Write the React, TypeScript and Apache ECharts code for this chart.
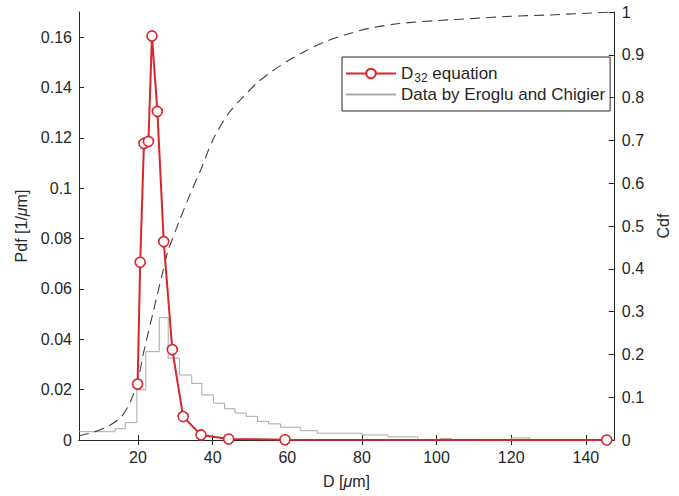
import React, { useEffect, useRef } from "react";
import * as echarts from "echarts";

// D32 equation (x in µm, pdf in 1/µm)
const d32X = [19.9, 20.6, 21.6, 22.8, 23.75, 25.2, 26.9, 29.2, 32.1, 36.9, 44.3, 59.4, 145.6];
const d32Y = [0.0222, 0.0706, 0.1178, 0.1186, 0.1605, 0.1305, 0.0788, 0.0359, 0.0093, 0.002, 0.0004, 0.0001, 0];

// Data by Eroglu and Chigier (stairs: left edge of each bin, pdf value)
const histEdges = [4.2, 13.9, 16.6, 19.7, 22.1, 25.7, 28.1, 31.1, 34.4, 37.1, 40.2, 43.2, 46, 49, 52, 55, 58.2, 63.5, 68, 80, 87, 95, 101, 104, 120, 125, 147.5];
const histPdf = [0.0033, 0.0045, 0.0069, 0.0199, 0.0351, 0.0486, 0.0325, 0.0258, 0.0225, 0.0179, 0.0146, 0.0124, 0.0107, 0.0094, 0.0074, 0.0064, 0.0051, 0.0037, 0.0027, 0.002, 0.0013, 0.0002, 0.0006, 0.0002, 0.0008, 0.0002, 0.0002];

// Cumulative distribution (right axis)
const cdfX = [4.2, 8, 12, 15.6, 18, 20, 21.4, 24.1, 26.3, 28, 31, 34, 37, 40, 44, 48, 52, 56, 60, 64, 70, 76, 82, 90, 100, 110, 120, 130, 140, 147.5];
const cdfY = [0.01, 0.018, 0.032, 0.055, 0.09, 0.14, 0.2, 0.3, 0.38, 0.44, 0.51, 0.575, 0.635, 0.7, 0.76, 0.8, 0.835, 0.862, 0.885, 0.905, 0.93, 0.948, 0.962, 0.973, 0.98, 0.985, 0.99, 0.993, 0.997, 1.0];

const xTicks = [20, 40, 60, 80, 100, 120, 140];
const pdfTicks = [0, 0.02, 0.04, 0.06, 0.08, 0.1, 0.12, 0.14, 0.16];

const FONT = "'Liberation Sans', Arial, Helvetica, sans-serif";
const AX = "#262626";
const RED = "#d9262b";

export default function App() {
  const ref = useRef<HTMLDivElement>(null);
  useEffect(() => {
    if (!ref.current) return;
    const chart = echarts.init(ref.current, undefined, { renderer: "svg" });
    const d32 = d32X.map((x, i) => [x, d32Y[i]]);
    const hist = histEdges.map((x, i) => [x, histPdf[i]]);
    const cdf = cdfX.map((x, i) => [x, cdfY[i]]);
    const tickStyle = { show: true, inside: true, length: 5, lineStyle: { color: AX, width: 1 } };
    chart.setOption({
      animation: false,
      backgroundColor: "#ffffff",
      textStyle: { fontFamily: FONT },
      grid: { left: 79, right: 65, top: 12, bottom: 56, containLabel: false },
      legend: {
        orient: "vertical",
        left: 342,
        top: 57,
        backgroundColor: "#ffffff",
        borderColor: AX,
        borderWidth: 1,
        padding: [6, 5, 8, 3],
        itemGap: 2,
        itemWidth: 50,
        itemHeight: 12,
        data: [
          { name: "D32" },
          { name: "Data by Eroglu and Chigier", itemStyle: { opacity: 0 } },
        ],
        formatter: (name: string) => (name === "D32" ? "{n|D}{s|32}{n| equation}" : "{n|" + name + "}"),
        textStyle: {
          fontFamily: FONT,
          color: AX,
          rich: {
            n: { fontSize: 17, fontFamily: FONT, color: AX, lineHeight: 19 },
            s: { fontSize: 12, fontFamily: FONT, color: AX, lineHeight: 19, padding: [9, 0, 0, 1] },
          },
        },
      },
      xAxis: [
        {
          type: "value",
          min: 4.2,
          max: 147.5,
          position: "bottom",
          name: "D [{i|μ}m]",
          nameLocation: "middle",
          nameGap: 33,
          nameTextStyle: { fontSize: 16, color: AX, fontFamily: FONT, rich: { i: { fontSize: 16, fontStyle: "italic", fontFamily: FONT, color: AX } } },
          axisLine: { show: true, lineStyle: { color: AX, width: 1 } },
          axisTick: { ...tickStyle, customValues: xTicks },
          axisLabel: { customValues: xTicks, fontSize: 16, color: AX, margin: 9, fontFamily: FONT },
          splitLine: { show: false },
        },
        {
          type: "value",
          min: 4.2,
          max: 147.5,
          position: "top",
          axisLine: { show: true, lineStyle: { color: AX, width: 1 } },
          axisTick: { ...tickStyle, customValues: xTicks },
          axisLabel: { show: false, customValues: xTicks },
          splitLine: { show: false },
        },
      ],
      yAxis: [
        {
          type: "value",
          min: 0,
          max: 0.17,
          position: "left",
          name: "Pdf [1/{i|μ}m]",
          nameLocation: "middle",
          nameGap: 41,
          nameRotate: 90,
          nameTextStyle: { fontSize: 16, color: AX, fontFamily: FONT, rich: { i: { fontSize: 16, fontStyle: "italic", fontFamily: FONT, color: AX } } },
          axisLine: { show: true, lineStyle: { color: AX, width: 1 } },
          axisTick: { ...tickStyle, customValues: pdfTicks },
          axisLabel: { customValues: pdfTicks, fontSize: 16, color: AX, margin: 7, fontFamily: FONT },
          splitLine: { show: false },
        },
        {
          type: "value",
          min: 0,
          max: 1,
          interval: 0.1,
          position: "right",
          name: "Cdf",
          nameLocation: "middle",
          nameGap: 26,
          nameRotate: 90,
          nameTextStyle: { fontSize: 16, color: AX, fontFamily: FONT },
          axisLine: { show: true, lineStyle: { color: AX, width: 1 } },
          axisTick: tickStyle,
          axisLabel: { fontSize: 16, color: AX, margin: 8, fontFamily: FONT },
          splitLine: { show: false },
        },
      ],
      series: [
        {
          name: "Data by Eroglu and Chigier",
          type: "line",
          step: "end",
          data: hist,
          symbol: "none",
          xAxisIndex: 0,
          yAxisIndex: 0,
          lineStyle: { color: "#a8a8a8", width: 1 },
          itemStyle: { color: "#a8a8a8" },
          z: 2,
        },
        {
          name: "cdf",
          type: "line",
          data: cdf,
          symbol: "none",
          smooth: 0.3,
          xAxisIndex: 0,
          yAxisIndex: 1,
          lineStyle: { color: "#404040", width: 1.1, type: [10, 6] },
          itemStyle: { color: "#404040" },
          z: 3,
        },
        {
          name: "D32",
          type: "line",
          data: d32,
          symbol: "circle",
          symbolSize: 10,
          xAxisIndex: 0,
          yAxisIndex: 0,
          lineStyle: { color: RED, width: 2 },
          itemStyle: { color: "#ffffff", borderColor: RED, borderWidth: 1.6 },
          z: 4,
        },
      ],
    });
    return () => chart.dispose();
  }, []);
  return <div ref={ref} style={{ position: "fixed", left: 0, top: 0, width: 679, height: 496 }} />;
}
